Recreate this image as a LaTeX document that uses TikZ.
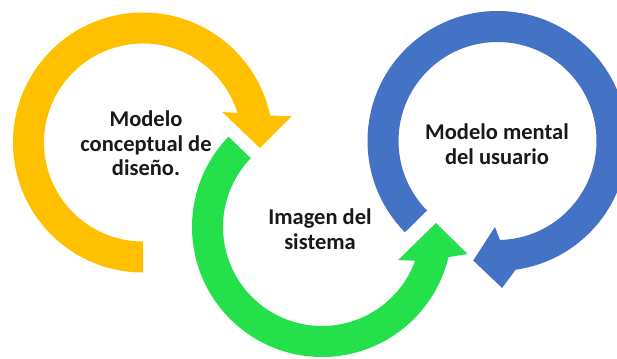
\documentclass[tikz,border=0pt]{standalone}
\usepackage{fontspec}
\setmainfont{Carlito}
\definecolor{gold}{HTML}{FFC000}
\definecolor{lime}{HTML}{23E04B}
\definecolor{royal}{HTML}{4472C4}
\begin{document}
\begin{tikzpicture}[x=1pt,y=1pt,font=\bfseries\fontsize{22.5}{24.5}\selectfont,
 lbl/.style={align=center,inner sep=0pt,text=black!90}]
\useasboundingbox (0,0) rectangle (617,358);
\begin{scope}[shift={(143,215.5)}]
 \fill[gold] (270:130) arc[start angle=270,end angle=12,radius=130] -- (10:151) -- (-2.7:117)
  -- (21:85) -- (17.4:99) arc[start angle=17.4,end angle=270,radius=99] -- cycle;
\end{scope}
\begin{scope}[shift={(322,131)}]
 \fill[lime] (136:130) arc[start angle=136,end angle=346.6,radius=130] -- (-10.5:148) -- (2:114)
  -- (-23.5:83) -- (-19.9:99) arc[start angle=340.1,end angle=136,radius=99] -- cycle;
\end{scope}
\begin{scope}[shift={(497.5,217)}]
 \fill[royal] (224.6:130) arc[start angle=224.6,end angle=-82,radius=130] -- (271.8:147) -- (258.5:122)
  -- (268.3:86) -- (271.4:99) arc[start angle=-88.6,end angle=224.6,radius=99] -- cycle;
\end{scope}
\node[lbl] (conceptual) at (146,214.5) {Modelo\\conceptual de\\diseño.};
\node[lbl] (imagen) at (320,129) {Imagen del\\sistema};
\node[lbl] (mental) at (497,214) {Modelo mental\\del usuario};
\end{tikzpicture}
\end{document}
